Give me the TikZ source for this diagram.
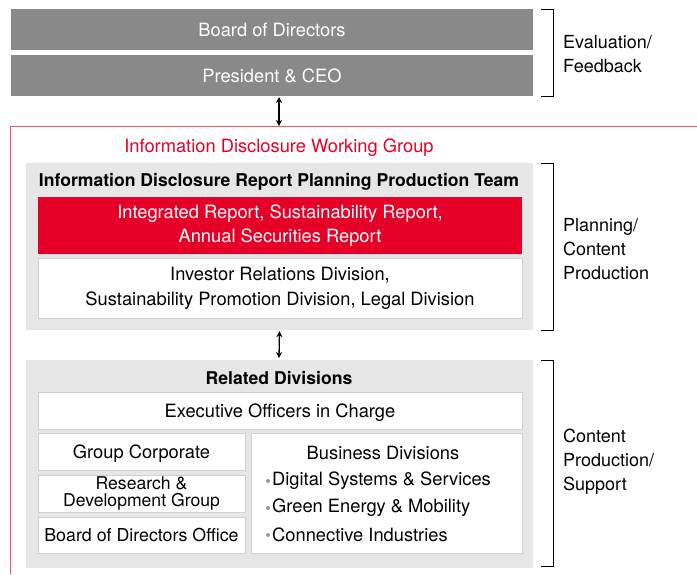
\documentclass[tikz,border=0pt]{standalone}
\usepackage{fontspec}
\setmainfont{TeX Gyre Heros}
\usetikzlibrary{arrows.meta}
\definecolor{darkgray}{HTML}{898989}
\definecolor{panelgray}{HTML}{E6E6E6}
\definecolor{hred}{HTML}{E60027}
\definecolor{linered}{HTML}{E8546A}
\definecolor{boxline}{HTML}{CFCFCF}
\definecolor{bulgray}{HTML}{999999}
\newcommand\rsz{\fontsize{18.3}{22}\selectfont}
\begin{document}
\begin{tikzpicture}[x=1pt,y=-1pt,
  topbox/.style={fill=darkgray,text=white,minimum width=522pt,minimum height=41pt,inner sep=0pt,font=\rsz,text height=13pt,text depth=0pt},
  panel/.style={fill=panelgray,inner sep=0pt},
  wbox/.style={fill=white,draw=boxline,line width=0.6pt,inner sep=0pt,align=center,font=\rsz},
  oneline/.style={text height=13pt,text depth=0pt},
  lbl/.style={anchor=west,align=left,font=\fontsize{18}{24}\selectfont,inner sep=0pt},
  brk/.style={line width=1pt},
  arr/.style={{Stealth[length=6pt,width=6pt]}-{Stealth[length=6pt,width=6pt]},line width=1.3pt},
  txt/.style={font=\rsz,inner sep=0pt}]
\useasboundingbox (0,0) rectangle (697,574);
% top boxes
\node[topbox] (bod) at (272,29.5) {Board of Directors};
\node[topbox] (ceo) at (272,75.5) {President \& CEO};
\draw[brk] (541,9) -- (553,9) -- (553,96) -- (541,96);
\node[lbl] (ev) at (563,54) {Evaluation/\\Feedback};
% red working group frame
\draw[linered,line width=0.8pt] (697,126) -- (10,126) -- (10,574);
\coordinate (wg) at (279,126);
\draw[arr] (279,97) -- (wg);
\node[txt,text=hred] (wgt) at (279,148) {Information Disclosure Working Group};
% panel 1
\node[panel,minimum width=507pt,minimum height=167pt] (p1) at (279.5,246.5) {};
\node[txt,font=\fontsize{17.6}{20}\selectfont\bfseries] (p1t) at (279,182) {Information Disclosure Report Planning Production Team};
\node[fill=hred,text=white,minimum width=484pt,minimum height=57pt,inner sep=0pt,align=center,font=\fontsize{18.3}{24}\selectfont] (rep) at (280,225.5) {Integrated Report, Sustainability Report,\\Annual Securities Report};
\node[wbox,minimum width=484pt,minimum height=60pt,font=\fontsize{18.3}{25}\selectfont] (ir) at (280,288) {Investor Relations Division,\\Sustainability Promotion Division, Legal Division};
\draw[brk] (541,163) -- (553,163) -- (553,330) -- (541,330);
\node[lbl] (pl) at (563,249) {Planning/\\Content\\Production};
% arrow 2
\draw[arr] (p1.south) ++(0,1) -- (279,358);
% panel 2
\node[panel,minimum width=507pt,minimum height=208pt] (p2) at (279.5,464) {};
\node[txt,font=\fontsize{17.6}{20}\selectfont\bfseries] (p2t) at (279,378) {Related Divisions};
\node[wbox,oneline,minimum width=484pt,minimum height=37pt] (exe) at (280,410.5) {Executive Officers in Charge};
\node[wbox,minimum width=207pt,minimum height=37pt,text height=13pt,text depth=-2pt] (gc) at (141.5,451.5) {Group Corporate};
\node[wbox,minimum width=207pt,minimum height=37pt,font=\fontsize{17.6}{16.5}\selectfont] (rd) at (141.5,493.5) {Research \&\\Development Group};
\node[wbox,oneline,minimum width=207pt,minimum height=36pt,font=\fontsize{17.8}{22}\selectfont] (bdo) at (141.5,535) {Board of Directors Office};
\node[wbox,minimum width=271pt,minimum height=120pt] (bd) at (386.5,493) {};
\node[txt] (bdt) at (383,453) {Business Divisions};
\node[txt,anchor=west] (b1) at (272,481) {Digital Systems \& Services};
\node[txt,anchor=west] (b2) at (272,508) {Green Energy \& Mobility};
\node[txt,anchor=west] (b3) at (272,535) {Connective Industries};
\foreach \b in {b1,b2,b3} \fill[bulgray] ([xshift=-4pt]\b.west) circle (2pt);
\draw[brk] (541,360) -- (553,360) -- (553,566) -- (541,566);
\node[lbl] (cp) at (563,462) {Content\\Production/\\Support};
\end{tikzpicture}
\end{document}
